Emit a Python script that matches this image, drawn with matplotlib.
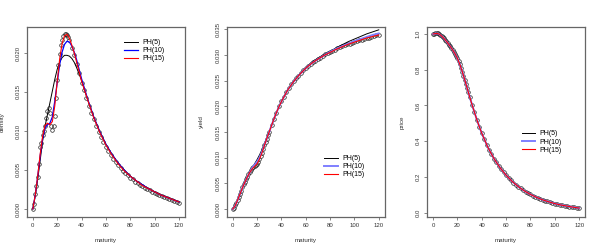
import matplotlib
matplotlib.use("Agg")
import matplotlib.pyplot as plt
from matplotlib.ticker import FormatStrFormatter

plt.rcParams['font.family'] = ['Liberation Sans', 'DejaVu Sans']

# maturities of the observed points and of the fitted curves
obs_mat = list(range(0, 31)) + list(range(32, 121, 2))
fit_mat = list(range(0, 41, 2)) + list(range(45, 121, 5))

# ---- density panel ----
dens_obs = [0.0000, 0.0007, 0.0019, 0.0029, 0.0041, 0.0058, 0.0080, 0.0084, 0.0095, 0.0100,
            0.0107, 0.0117, 0.0125, 0.0129, 0.0123, 0.0106, 0.0101, 0.0107, 0.0119, 0.0142,
            0.0165, 0.0184, 0.0199, 0.0210, 0.0217, 0.0222, 0.0224, 0.0224, 0.0223, 0.0220,
            0.0216,
            0.0207, 0.0197, 0.0186, 0.0174, 0.0162, 0.0152, 0.0142, 0.0132, 0.0123, 0.0115,
            0.0107, 0.0099, 0.0092, 0.0086, 0.0080, 0.0074, 0.0069, 0.0064, 0.0060, 0.0056,
            0.0052, 0.0049, 0.0046, 0.0043, 0.0040, 0.0038, 0.0035, 0.0033, 0.0031, 0.0029,
            0.0027, 0.0025, 0.0024, 0.0022, 0.0021, 0.0019, 0.0018, 0.0017, 0.0015, 0.0014,
            0.0013, 0.0012, 0.0010, 0.0009, 0.0008]
dens_ph5 = [0.0000, 0.0017, 0.0038, 0.0062, 0.0087, 0.0106, 0.0121, 0.0136, 0.0151, 0.0166,
            0.0179, 0.0188, 0.0194, 0.0197, 0.0197, 0.0196, 0.0193, 0.0188, 0.0181, 0.0173,
            0.0165,
            0.0140, 0.0118, 0.0099, 0.0083, 0.0070, 0.0059, 0.0050, 0.0042, 0.0036, 0.0031,
            0.0026, 0.0022, 0.0018, 0.0015, 0.0012, 0.0009]
dens_ph10 = [0.0000, 0.0018, 0.0042, 0.0068, 0.0090, 0.0104, 0.0108, 0.0110, 0.0118, 0.0138,
             0.0162, 0.0185, 0.0201, 0.0211, 0.0215, 0.0214, 0.0209, 0.0201, 0.0191, 0.0179,
             0.0167,
             0.0141, 0.0118, 0.0099, 0.0083, 0.0070, 0.0059, 0.0050, 0.0042, 0.0036, 0.0031,
             0.0026, 0.0022, 0.0018, 0.0015, 0.0012, 0.0009]
dens_ph15 = [0.0000, 0.0018, 0.0042, 0.0070, 0.0093, 0.0107, 0.0110, 0.0108, 0.0112, 0.0132,
             0.0163, 0.0192, 0.0212, 0.0222, 0.0224, 0.0219, 0.0210, 0.0200, 0.0188, 0.0176,
             0.0164,
             0.0140, 0.0117, 0.0098, 0.0082, 0.0069, 0.0058, 0.0049, 0.0042, 0.0036, 0.0030,
             0.0026, 0.0022, 0.0018, 0.0015, 0.0012, 0.0009]

# ---- yield panel ----
yld_obs = [0.0000, 0.0002, 0.0007, 0.0012, 0.0018, 0.0024, 0.0030, 0.0036, 0.0042, 0.0048,
           0.0053, 0.0058, 0.0063, 0.0068, 0.0072, 0.0076, 0.0079, 0.0081, 0.0083, 0.0085,
           0.0088, 0.0092, 0.0097, 0.0103, 0.0110, 0.0117, 0.0124, 0.0131, 0.0137, 0.0144,
           0.0150,
           0.0163, 0.0176, 0.0188, 0.0200, 0.0210, 0.0219, 0.0228, 0.0236, 0.0243, 0.0249,
           0.0255, 0.0260, 0.0265, 0.0270, 0.0274, 0.0278, 0.0282, 0.0286, 0.0289, 0.0292,
           0.0295, 0.0298, 0.0301, 0.0303, 0.0306, 0.0308, 0.0310, 0.0313, 0.0315, 0.0317,
           0.0319, 0.0321, 0.0322, 0.0324, 0.0326, 0.0327, 0.0329, 0.0330, 0.0332, 0.0333,
           0.0334, 0.0336, 0.0337, 0.0338, 0.0339]
yld_ph5 = [0.0000, 0.0006, 0.0017, 0.0029, 0.0041, 0.0052, 0.0062, 0.0072, 0.0080, 0.0088,
           0.0096, 0.0105, 0.0115, 0.0126, 0.0138, 0.0150, 0.0163, 0.0176, 0.0188, 0.0199,
           0.0209,
           0.0231, 0.0248, 0.0263, 0.0275, 0.0286, 0.0294, 0.0301, 0.0307, 0.0314, 0.0320,
           0.0326, 0.0331, 0.0336, 0.0341, 0.0345, 0.0349]
yld_ph10 = [0.0000, 0.0006, 0.0017, 0.0029, 0.0041, 0.0052, 0.0062, 0.0071, 0.0080, 0.0086,
            0.0092, 0.0100, 0.0111, 0.0124, 0.0137, 0.0150, 0.0163, 0.0176, 0.0188, 0.0199,
            0.0209,
            0.0231, 0.0248, 0.0262, 0.0274, 0.0284, 0.0292, 0.0299, 0.0306, 0.0312, 0.0317,
            0.0322, 0.0327, 0.0331, 0.0335, 0.0339, 0.0342]
yld_ph15 = [0.0000, 0.0006, 0.0017, 0.0029, 0.0041, 0.0052, 0.0062, 0.0071, 0.0078, 0.0083,
            0.0088, 0.0097, 0.0109, 0.0123, 0.0137, 0.0150, 0.0163, 0.0176, 0.0188, 0.0199,
            0.0209,
            0.0231, 0.0248, 0.0262, 0.0274, 0.0284, 0.0292, 0.0299, 0.0305, 0.0311, 0.0316,
            0.0321, 0.0325, 0.0329, 0.0333, 0.0336, 0.0339]

# ---- price panel ----
price_obs = [1.000, 1.000, 1.003, 1.004, 1.003, 1.000, 0.995, 0.989, 0.982, 0.975,
             0.967, 0.958, 0.950, 0.941, 0.932, 0.922, 0.912, 0.901, 0.890, 0.878,
             0.864, 0.848, 0.830, 0.810, 0.789, 0.767, 0.744, 0.720, 0.697, 0.673,
             0.650,
             0.605, 0.562, 0.520, 0.481, 0.445, 0.412, 0.381, 0.353, 0.327, 0.303,
             0.281, 0.261, 0.243, 0.226, 0.210, 0.195, 0.182, 0.169, 0.157, 0.146,
             0.136, 0.127, 0.118, 0.110, 0.102, 0.095, 0.089, 0.083, 0.077, 0.072,
             0.067, 0.063, 0.059, 0.055, 0.051, 0.048, 0.045, 0.042, 0.039, 0.037,
             0.034, 0.032, 0.030, 0.028, 0.026]
price_ph5 = [1.000, 1.001, 1.000, 0.994, 0.983, 0.969, 0.953, 0.935, 0.914, 0.891,
             0.864, 0.831, 0.791, 0.746, 0.699, 0.651, 0.606, 0.562, 0.521, 0.482,
             0.446,
             0.367, 0.304, 0.253, 0.211, 0.176, 0.147, 0.123, 0.103, 0.087, 0.073,
             0.061, 0.051, 0.043, 0.036, 0.030, 0.025]
price_ph10 = [1.000, 1.002, 1.002, 0.995, 0.982, 0.967, 0.950, 0.932, 0.912, 0.890,
              0.864, 0.830, 0.789, 0.744, 0.697, 0.650, 0.605, 0.562, 0.520, 0.481,
              0.445,
              0.366, 0.303, 0.252, 0.210, 0.175, 0.146, 0.122, 0.102, 0.086, 0.072,
              0.061, 0.051, 0.043, 0.037, 0.031, 0.026]
price_ph15 = [1.000, 1.002, 1.002, 0.995, 0.982, 0.967, 0.950, 0.932, 0.912, 0.890,
              0.864, 0.830, 0.789, 0.744, 0.697, 0.650, 0.605, 0.562, 0.520, 0.481,
              0.445,
              0.366, 0.303, 0.252, 0.210, 0.175, 0.146, 0.122, 0.102, 0.086, 0.072,
              0.061, 0.051, 0.043, 0.037, 0.031, 0.026]

labels = ["PH(5)", "PH(10)", "PH(15)"]

fig = plt.figure(figsize=(6, 2.5), dpi=100)
txt = '#333333'


def panel(left, obs, fits, ylabel, ylim, yticks, yfmt, leg_pos, blue):
    ax = fig.add_axes([left, 0.132, 0.263, 0.76])
    ax.plot(obs_mat, obs, 'o', mfc='none', mec='#222222', ms=2.6, mew=0.5)
    cols = ['black', blue, 'red']
    lws = [0.7, 0.9 if blue == 'blue' else 1.4, 0.8]
    for f, c, lw, lab in zip(fits, cols, lws, labels):
        ax.plot(fit_mat, f, color=c, lw=lw, label=lab)
    ax.set_xlim(-4.8, 124.8)
    ax.set_ylim(*ylim)
    ax.set_xticks([0, 20, 40, 60, 80, 100, 120])
    ax.set_yticks(yticks)
    ax.yaxis.set_major_formatter(FormatStrFormatter(yfmt))
    ax.tick_params(labelsize=4.3, length=2.5, width=0.5, colors='#555555',
                   labelcolor=txt, pad=2)
    for lab in ax.get_yticklabels():
        lab.set_rotation(90)
        lab.set_va('center')
    for s in ax.spines.values():
        s.set_color('#666666')
        s.set_linewidth(0.9)
    ax.set_xlabel('maturity', fontsize=4.5, color=txt, labelpad=7)
    ax.set_ylabel(ylabel, fontsize=4.5, color=txt, labelpad=8)
    ax.legend(loc='upper left', bbox_to_anchor=leg_pos, frameon=False,
              fontsize=5, handlelength=2.0, handletextpad=0.6,
              labelspacing=0.15, borderaxespad=0)
    return ax


panel(0.045, dens_obs, [dens_ph5, dens_ph10, dens_ph15], 'density',
      (-0.00103, 0.02333), [0.000, 0.005, 0.010, 0.015, 0.020], '%.3f',
      (0.60, 0.95), 'blue')
panel(0.378, yld_obs, [yld_ph5, yld_ph10, yld_ph15], 'yield',
      (-0.00155, 0.03545), [0.000, 0.005, 0.010, 0.015, 0.020, 0.025, 0.030, 0.035],
      '%.3f', (0.60, 0.34), '#7f7fff')
panel(0.712, price_obs, [price_ph5, price_ph10, price_ph15], 'price',
      (-0.024, 1.039), [0.0, 0.2, 0.4, 0.6, 0.8, 1.0], '%.1f',
      (0.58, 0.47), '#7f7fff')

fig.savefig('out.png', dpi=100)
